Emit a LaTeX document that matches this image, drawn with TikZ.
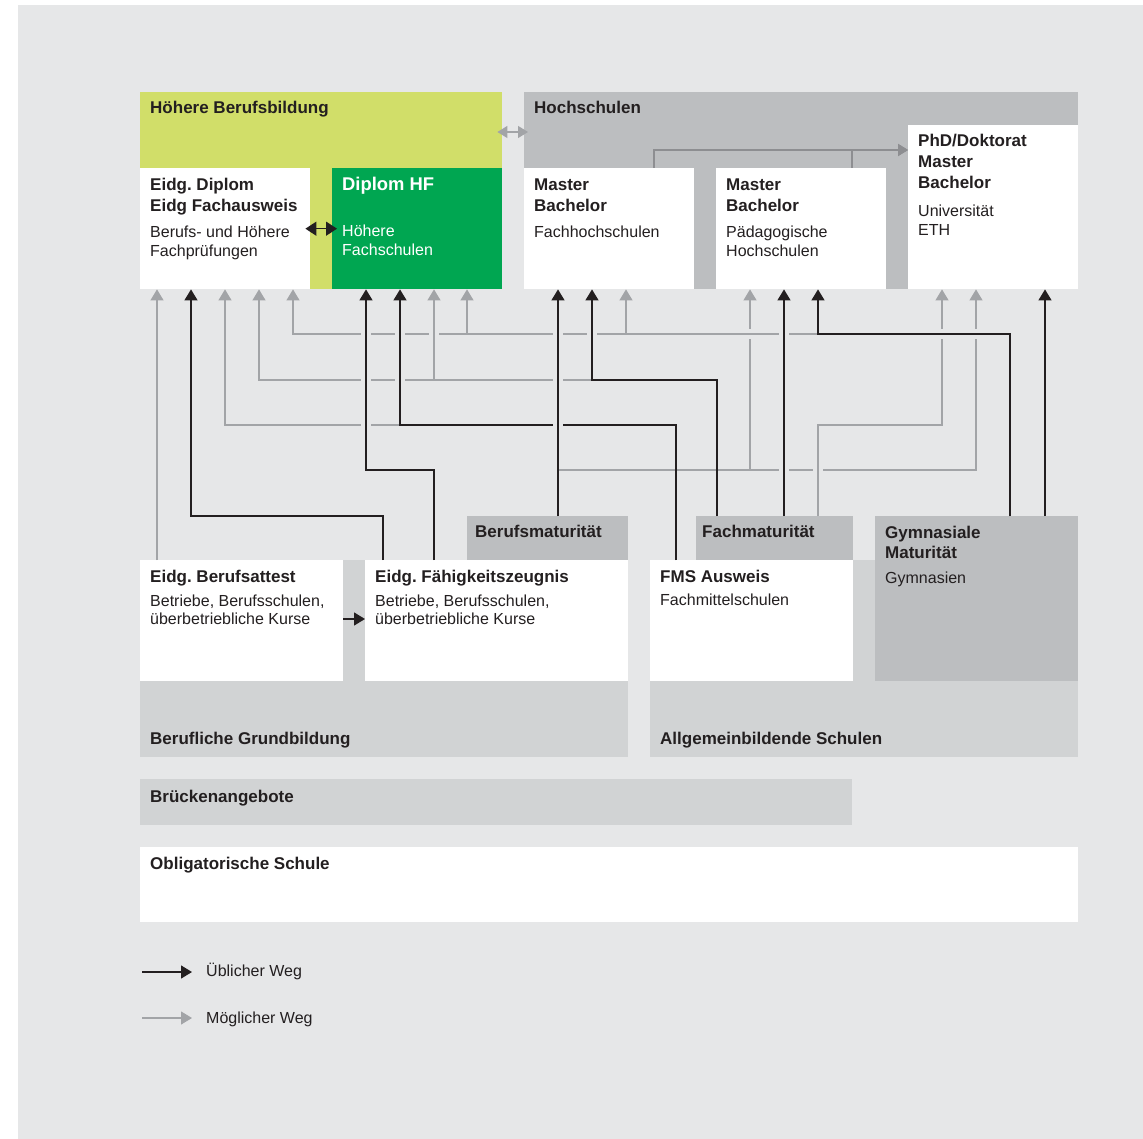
\documentclass[tikz,border=0pt]{standalone}
\usepackage{fontspec}
\setmainfont{Liberation Sans}
\usetikzlibrary{arrows.meta}
\frenchspacing

\definecolor{backdrop}{HTML}{E6E7E8}
\definecolor{lime}{HTML}{D1DE69}
\definecolor{hfgreen}{HTML}{00A651}
\definecolor{midgrey}{HTML}{BCBEC0}
\definecolor{lightgrey}{HTML}{D1D3D4}
\definecolor{ink}{HTML}{231F20}
\definecolor{waygrey}{HTML}{A2A4A7}
\definecolor{railgrey}{HTML}{8D8E91}

\begin{document}
\begin{tikzpicture}[
    x=1pt, y=-1pt,
    area/.style={rectangle, inner sep=0pt, anchor=north west},
    ttl/.style={anchor=base west, inner sep=0pt, align=left, text=ink, font=\fontsize{17}{20.8}\selectfont\bfseries},
    sub/.style={anchor=base west, inner sep=0pt, align=left, text=ink, font=\fontsize{16}{18.4}\selectfont},
    usual/.style={draw=ink, line width=1.4pt, -{Triangle[width=13pt,length=11pt]}},
    usualboth/.style={draw=ink, line width=1.4pt, {Triangle[width=14pt,length=11pt]}-{Triangle[width=14pt,length=11pt]}},
    usualline/.style={draw=ink, line width=1.4pt},
    possible/.style={draw=waygrey, line width=1.2pt, -{Triangle[width=13pt,length=11pt]}},
    possibleboth/.style={draw=waygrey, line width=1.2pt, {Triangle[width=12pt,length=10pt]}-{Triangle[width=12pt,length=10pt]}},
    possibleline/.style={draw=waygrey, line width=1.2pt},
    rail/.style={draw=railgrey, line width=1.2pt, -{Triangle[width=12pt,length=10pt]}}
]
\useasboundingbox (0,0) rectangle (1143,1139);
\fill[white] (0,0) rectangle (1143,1139);
\fill[backdrop] (18,5) rectangle (1143,1139);

% Tertiary level
\node[area, fill=lime, minimum width=362, minimum height=197] (hbb) at (140,92) {};
\node[area, fill=midgrey, minimum width=554, minimum height=197] (hs) at (524,92) {};
\node[area, fill=white, minimum width=170, minimum height=121] (diploma) at (140,168) {};
\node[area, fill=hfgreen, minimum width=170, minimum height=121] (hf) at (332,168) {};
\node[area, fill=white, minimum width=170, minimum height=121] (fh) at (524,168) {};
\node[area, fill=white, minimum width=170, minimum height=121] (ph) at (716,168) {};
\node[area, fill=white, minimum width=170, minimum height=164] (uni) at (908,125) {};

% (multi-line texts sit on the baseline of their last line)
\node[ttl] (hbbtxt) at (150,114) {Höhere Berufsbildung};
\node[ttl] (hstxt) at (534,114) {Hochschulen};
\node[ttl] (diplomatxt) at (150,211.8) {Eidg. Diplom\\Eidg Fachausweis};
\node[sub] (diplomasub) at (150,256.4) {Berufs- und Höhere\\Fachprüfungen};
\node[ttl, text=white, font=\fontsize{18.4}{21}\selectfont\bfseries] (hftxt) at (342,191) {Diplom HF};
\node[sub, text=white] (hfsub) at (342,255.4) {Höhere\\Fachschulen};
\node[ttl] (fhtxt) at (534,211.8) {Master\\Bachelor};
\node[sub] (fhsub) at (534,238) {Fachhochschulen};
\node[ttl] (phtxt) at (726,211.8) {Master\\Bachelor};
\node[sub] (phsub) at (726,256.4) {Pädagogische\\Hochschulen};
\node[ttl] (unitxt) at (918,188.6) {PhD/Doktorat\\Master\\Bachelor};
\node[sub] (unisub) at (918,235.4) {Universität\\ETH};

% Secondary level II
\node[area, fill=lightgrey, minimum width=488, minimum height=197] (grund) at (140,560) {};
\node[area, fill=lightgrey, minimum width=428, minimum height=197] (allg) at (650,560) {};
\node[area, fill=midgrey, minimum width=161, minimum height=44] (bm) at (467,516) {};
\node[area, fill=midgrey, minimum width=157, minimum height=44] (fm) at (696,516) {};
\node[area, fill=midgrey, minimum width=203, minimum height=165] (gym) at (875,516) {};
\node[area, fill=white, minimum width=203, minimum height=121] (eba) at (140,560) {};
\node[area, fill=white, minimum width=263, minimum height=121] (efz) at (365,560) {};
\node[area, fill=white, minimum width=203, minimum height=121] (fms) at (650,560) {};

\node[ttl] (bmtxt) at (475,537) {Berufsmaturität};
\node[ttl] (fmtxt) at (702,537) {Fachmaturität};
\node[ttl] (gymtxt) at (885,558.8) {Gymnasiale\\Maturität};
\node[sub] (gymsub) at (885,583) {Gymnasien};
\node[ttl] (ebatxt) at (150,582) {Eidg. Berufsattest};
\node[sub] (ebasub) at (150,624.4) {Betriebe, Berufsschulen,\\überbetriebliche Kurse};
\node[ttl] (efztxt) at (375,582) {Eidg. Fähigkeitszeugnis};
\node[sub] (efzsub) at (375,624.4) {Betriebe, Berufsschulen,\\überbetriebliche Kurse};
\node[ttl] (fmstxt) at (660,582) {FMS Ausweis};
\node[sub] (fmssub) at (660,605) {Fachmittelschulen};
\node[ttl] (grundtxt) at (150,744) {Berufliche Grundbildung};
\node[ttl] (allgtxt) at (660,744) {Allgemeinbildende Schulen};

% Bridge and compulsory school
\node[area, fill=lightgrey, minimum width=712, minimum height=46] (bruecke) at (140,779) {};
\node[area, fill=white, minimum width=938, minimum height=75] (oblig) at (140,847) {};
\node[ttl] (bruecketxt) at (150,802) {Brückenangebote};
\node[ttl] (obligtxt) at (150,869) {Obligatorische Schule};

% Possible paths
\draw[possible] (eba.north -| 157,0) -- (diploma.south -| 157,0);
\draw[possible] (fms.north -| 676,0) |- (225,425) -- (diploma.south -| 225,0);
\draw[possible] (fm.north -| 717,0) |- (259,380) -- (diploma.south -| 259,0);
\draw[possible] (fm.north -| 717,0) |- (434,380) -- (hf.south -| 434,0);
\draw[possible] (gym.north -| 1010,0) |- (293,334) -- (diploma.south -| 293,0);
\draw[possible] (gym.north -| 1010,0) |- (467,334) -- (hf.south -| 467,0);
\draw[possible] (gym.north -| 1010,0) |- (626,334) -- (fh.south -| 626,0);
\draw[possible] (bm.north -| 558,0) |- (750,470) -- (ph.south -| 750,0);
\draw[possible] (bm.north -| 558,0) |- (976,470) -- (uni.south -| 976,0);
\draw[possible] (fm.north -| 818,0) |- (942,425) -- (uni.south -| 942,0);
\draw[possibleboth, shorten <=-5pt, shorten >=-4pt] (hbb.east |- 0,132) -- (hs.west |- 0,132);
\draw[rail] (fh.north -| 654,0) |- (uni.west |- 0,150);
\draw[rail] (ph.north -| 852,0) |- (uni.west |- 0,150);

% Usual paths
\draw[usual] (efz.north -| 383,0) |- (191,516) -- (diploma.south -| 191,0);
\draw[usual] (efz.north -| 434,0) |- (366,470) -- (hf.south -| 366,0);
\draw[usual] (fms.north -| 676,0) |- (400,425) -- (hf.south -| 400,0);
\draw[usual] (bm.north -| 558,0) -- (fh.south -| 558,0);
\draw[usual] (fm.north -| 717,0) |- (592,380) -- (fh.south -| 592,0);
\draw[usual] (fm.north -| 784,0) -- (ph.south -| 784,0);
\draw[usual] (gym.north -| 1010,0) |- (818,334) -- (ph.south -| 818,0);
\draw[usual] (gym.north -| 1045,0) -- (uni.south -| 1045,0);
\draw[usual] (eba.east |- 0,619) -- (efz.west |- 0,619);
\draw[usualboth] ([xshift=-5pt]diploma.east) -- ([xshift=5pt]hf.west);

% Gaps where lines pass behind
\foreach \x/\y in {366/334, 400/334, 558/334, 592/334, 784/334, 366/380, 400/380, 558/380, 366/425, 558/425, 784/470}
  {\fill[backdrop] (\x-5,\y-2.5) rectangle (\x+5,\y+2.5);
   \draw[usualline] (\x,\y-6) -- (\x,\y+6);}
\foreach \x/\y in {434/334, 818/470}
  {\fill[backdrop] (\x-5,\y-2.5) rectangle (\x+5,\y+2.5);
   \draw[possibleline] (\x,\y-6) -- (\x,\y+6);}
\foreach \x/\y in {750/334}
  {\fill[backdrop] (\x-2.5,\y-5) rectangle (\x+2.5,\y+5);
   \draw[possibleline] (\x-6,\y) -- (\x+6,\y);}
\foreach \x/\y in {942/334, 976/334}
  {\fill[backdrop] (\x-2.5,\y-5) rectangle (\x+2.5,\y+5);
   \draw[usualline] (\x-6,\y) -- (\x+6,\y);}

% Legend
\coordinate (usualfrom) at (142,972);
\coordinate (possiblefrom) at (142,1018);
\node[sub] (usualtxt) at (206,976) {Üblicher Weg};
\node[sub] (possibletxt) at (206,1023) {Möglicher Weg};
\draw[usual] (usualfrom) -- ++(50,0);
\draw[possible] (possiblefrom) -- ++(50,0);

\end{tikzpicture}
\end{document}
